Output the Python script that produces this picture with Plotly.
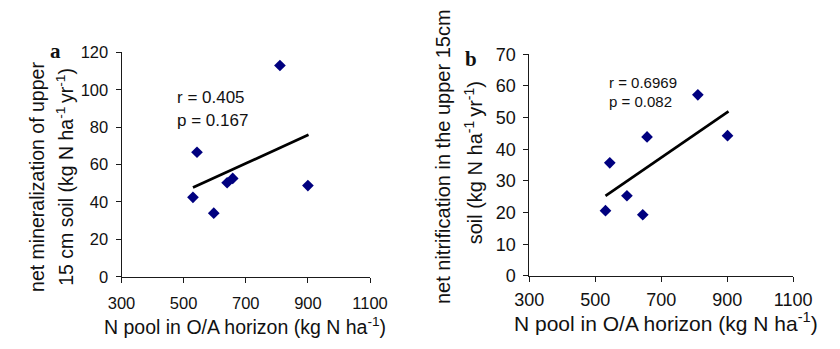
import plotly.graph_objects as go

# Data
n_pool_a = [530, 543, 597, 640, 658, 810, 900]
net_min = [42.5, 66.6, 34, 50.3, 52.6, 113, 48.8]
trend_a_x = [530, 902]
trend_a_y = [47.7, 76.0]

n_pool_b = [531, 544, 596, 644, 657, 811, 901]
net_nit = [20.6, 35.7, 25.3, 19.3, 43.9, 57.2, 44.3]
trend_b_x = [531, 904]
trend_b_y = [25.3, 52.0]

stats_a = ["r = 0.405", "p = 0.167"]
stats_b = ["r = 0.6969", "p = 0.082"]

FONT = "Liberation Sans, Arial, sans-serif"
SERIF = "Liberation Serif, Times New Roman, serif"
NAVY = "#00007f"
W, H = 840, 349

fig = go.Figure()
fig.add_trace(go.Scatter(x=n_pool_a, y=net_min, mode="markers",
                         marker=dict(symbol="diamond", size=9, color=NAVY),
                         xaxis="x", yaxis="y", showlegend=False))
fig.add_trace(go.Scatter(x=trend_a_x, y=trend_a_y, mode="lines",
                         line=dict(color="black", width=2.7),
                         xaxis="x", yaxis="y", showlegend=False))
fig.add_trace(go.Scatter(x=n_pool_b, y=net_nit, mode="markers",
                         marker=dict(symbol="diamond", size=9, color=NAVY),
                         xaxis="x2", yaxis="y2", showlegend=False))
fig.add_trace(go.Scatter(x=trend_b_x, y=trend_b_y, mode="lines",
                         line=dict(color="black", width=2.7),
                         xaxis="x2", yaxis="y2", showlegend=False))

def px_x(p):
    return p / W

def px_y(p):
    return 1 - p / H

def axis(size, standoff):
    return dict(showgrid=False, zeroline=False, showline=True, linecolor="#1a1a1a",
                linewidth=1, ticks="outside", ticklen=5, tickcolor="#1a1a1a",
                ticklabelstandoff=standoff,
                tickfont=dict(family=FONT, size=size, color="#111"), fixedrange=True)

fig.update_layout(
    width=W, height=H, margin=dict(l=0, r=0, t=0, b=0),
    paper_bgcolor="white", plot_bgcolor="white",
    xaxis=dict(domain=[px_x(111), px_x(370)], range=[300, 1100], dtick=200, tick0=300,
               anchor="y", **axis(16.5, 6)),
    yaxis=dict(domain=[px_y(283), px_y(45)], range=[0, 120], dtick=20,
               anchor="x", **axis(16.5, 4)),
    xaxis2=dict(domain=[px_x(536), px_x(811)], range=[300, 1100], dtick=200, tick0=300,
                anchor="y2", **axis(18, 3)),
    yaxis2=dict(domain=[px_y(282), px_y(47)], range=[0, 70], dtick=10,
                anchor="x2", **axis(18, 4)),
)

ann = []
def text(x, y, s, size=16, angle=0, family=FONT, xanchor="center"):
    ann.append(dict(x=x / W, y=1 - y / H, xref="paper", yref="paper", text=s,
                    showarrow=False, textangle=angle, xanchor=xanchor, yanchor="middle",
                    font=dict(family=family, size=size, color="#111")))

# panel letters
text(42, 44, "<b>a</b>", size=21, family=SERIF)
text(475, 52, "<b>b</b>", size=21, family=SERIF)

# x titles
text(240, 335, "N pool in O/A horizon (kg N ha<sup>-1</sup>)", size=19.5)
text(678, 331, "N pool in O/A horizon (kg N ha<sup>-1</sup>)", size=21)

# y titles
text(23, 177, "net mineralization of upper", size=19.5, angle=-90)
text(52, 177, "15 cm soil (kg N ha<sup>-1 </sup>yr<sup>-1</sup>)", size=19.5, angle=-90)
text(446, 155, "net nitrification in the upper 15cm", size=20, angle=-90)
text(478, 162, "soil (kg N ha<sup>-1 </sup>yr<sup>-1</sup>)", size=20, angle=-90)

# stats
text(167, 93, stats_a[0], size=17, xanchor="left")
text(167, 117, stats_a[1], size=17, xanchor="left")
text(617, 77, stats_b[0], size=15, xanchor="left")
text(617, 97, stats_b[1], size=15, xanchor="left")

fig.update_layout(annotations=ann)
fig.write_html("out.html")
